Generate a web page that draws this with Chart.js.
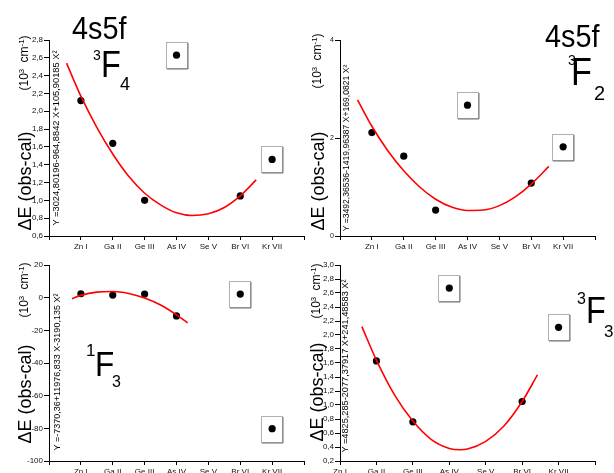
<!DOCTYPE html>
<html>
<head>
<meta charset="utf-8">
<script src="https://cdn.jsdelivr.net/npm/chart.js@4.4.1/dist/chart.umd.min.js"></script>
<style>
    html, body { margin: 0; padding: 0; background: #fff; }
    body { width: 614px; height: 473px; overflow: hidden; position: relative; font-family: 'Liberation Sans', Arial, sans-serif; }
    canvas { position: absolute; }
    .txt { position: absolute; color: #000; line-height: 1; white-space: nowrap; }
    .rot { position: absolute; color: #000; line-height: 1; white-space: nowrap; transform: translate(-50%, -50%) rotate(-90deg); }
    .rot sup { font-size: 65%; vertical-align: 0.55em; line-height: 0; }
</style>
</head>
<body>
<canvas id="c1"></canvas>
<canvas id="c2"></canvas>
<canvas id="c3"></canvas>
<canvas id="c4"></canvas>
<div id="labels"></div>
<script>
const categories = ['Zn I', 'Ga II', 'Ge III', 'As IV', 'Se V', 'Br VI', 'Kr VII'];

// 3F4 panel
const f4Values = [2.12, 1.64, 1.00, 2.63, null, 1.05, 1.46];
const f4Flagged = [3, 6];
const f4FitX = [0.55, 1, 1.5, 2, 2.5, 3, 3.5, 4, 4.5, 5, 5.5, 6, 6.5];
const f4FitY = [2.54, 2.17, 1.82, 1.52, 1.27, 1.08, 0.95, 0.86, 0.83, 0.85, 0.92, 1.05, 1.23];

// 3F2 panel
const f2Values = [2.11, 1.63, 0.53, 2.67, null, 1.08, 1.82];
const f2Flagged = [3, 6];
const f2FitX = [0.55, 1, 1.5, 2, 2.5, 3, 3.5, 4, 4.5, 5, 5.5, 6, 6.55];
const f2FitY = [2.78, 2.24, 1.74, 1.33, 1.00, 0.75, 0.59, 0.52, 0.53, 0.62, 0.80, 1.06, 1.42];

// 1F3 panel
const s3Values = [2.4, 1.6, 2.2, -11.2, null, 2.2, -80.2];
const s3Flagged = [5, 6];
const s3FitX = [0.72, 1, 1.5, 2, 2.5, 3, 3.5, 4, 4.35];
const s3FitY = [-0.7, 1.4, 3.4, 3.8, 2.6, -0.2, -4.5, -10.5, -15.4];

// 3F3 panel
const t3Values = [null, 1.63, 0.76, 2.67, null, 1.05, 2.11];
const t3Flagged = [3, 6];
const t3FitX = [1.6, 2, 2.5, 3, 3.5, 4, 4.3, 4.5, 5, 5.5, 6, 6.42];
const t3FitY = [2.12, 1.64, 1.14, 0.77, 0.51, 0.38, 0.36, 0.37, 0.48, 0.70, 1.05, 1.43];

const equations = [
    'Y =3024,80196-964,8842 X+105,90185 X²',
    'Y =3492,36536-1419,96387 X+169,0821 X²',
    'Y =-7370,36+11976,833 X-3190,135 X²',
    'Y =4825,285-2077,37917 X+241,48583 X²'
];

// boxes around the excluded points
const boxPlugin = {
    id: 'boxes',
    afterDatasetsDraw(chart) {
        const ctx = chart.ctx;
        chart.data.datasets.forEach((ds, i) => {
            if (!ds.boxed) return;
            chart.getDatasetMeta(i).data.forEach(pt => {
                const x = Math.round(pt.x), y = Math.round(pt.y);
                ctx.save();
                ctx.lineWidth = 1;
                ctx.strokeStyle = '#b0b0b0';
                ctx.strokeRect(x - 10.5, y - 12.5, 21, 26);
                ctx.strokeStyle = '#707070';
                ctx.beginPath();
                ctx.moveTo(x + 11, y - 12);
                ctx.lineTo(x + 11, y + 14);
                ctx.lineTo(x - 10, y + 14);
                ctx.stroke();
                ctx.restore();
            });
        });
    }
};

function makePanel(id, box, area, vals, flagged, fitX, fitY, xMin, yOpt) {
    const cv = document.getElementById(id);
    cv.style.left = box.left + 'px';
    cv.style.top = box.top + 'px';
    cv.style.width = box.w + 'px';
    cv.style.height = box.h + 'px';
    cv.width = box.w;
    cv.height = box.h;

    const normal = [], boxed = [];
    vals.forEach((v, i) => {
        if (v === null) return;
        (flagged.includes(i) ? boxed : normal).push({ x: i + 1, y: v });
    });
    const fit = fitX.map((x, i) => ({ x: x, y: fitY[i] }));

    new Chart(cv, {
        type: 'scatter',
        data: {
            datasets: [
                {
                    type: 'line', data: fit, borderColor: '#ff0000', borderWidth: 1.6,
                    pointRadius: 0, fill: false, cubicInterpolationMode: 'monotone'
                },
                { data: normal, backgroundColor: '#000', borderWidth: 0, pointRadius: 3.6 },
                { data: boxed, boxed: true, backgroundColor: '#000', borderWidth: 0, pointRadius: 3.6 }
            ]
        },
        options: {
            responsive: false,
            animation: false,
            events: [],
            layout: {
                padding: {
                    left: area.left - 22,
                    top: area.top,
                    right: box.w - area.right,
                    bottom: box.h - area.bottom - 26
                }
            },
            plugins: { legend: { display: false }, tooltip: { enabled: false } },
            scales: {
                x: {
                    type: 'linear', min: xMin, max: 8,
                    afterFit(s) { s.height = 26; },
                    border: { display: true, color: '#000', width: 1 },
                    grid: { display: true, drawOnChartArea: false, drawTicks: true, tickLength: 4, color: '#000' },
                    ticks: {
                        stepSize: 1, autoSkip: false, maxRotation: 0, padding: 2,
                        color: '#111', font: { family: 'Liberation Sans', size: 8 },
                        callback: v => categories[v - 1] || ''
                    }
                },
                y: {
                    min: yOpt.min, max: yOpt.max,
                    afterFit(s) { s.width = 22; },
                    border: { display: true, color: '#000', width: 1 },
                    grid: { display: true, drawOnChartArea: false, drawTicks: true, tickLength: 5, color: '#000' },
                    ticks: {
                        stepSize: yOpt.step, padding: 1,
                        color: '#111', font: { family: 'Liberation Sans', size: yOpt.font || 8 },
                        callback: yOpt.fmt
                    },
                    afterBuildTicks(s) {
                        s.ticks = yOpt.ticks.map(v => ({ value: v }));
                    }
                }
            }
        },
        plugins: [boxPlugin]
    });
}

const comma = v => v.toFixed(1).replace('.', ',');
const ticks028 = [0.6, 0.8, 1.0, 1.2, 1.4, 1.6, 1.8, 2.0, 2.2, 2.4, 2.6, 2.8];
const ticks030 = [0.2, 0.4, 0.6, 0.8, 1.0, 1.2, 1.4, 1.6, 1.8, 2.0, 2.2, 2.4, 2.6, 2.8, 3.0];

makePanel('c1', { left: 0, top: 0, w: 310, h: 262 }, { left: 49, top: 40, right: 304, bottom: 236 },
    f4Values, f4Flagged, f4FitX, f4FitY, 0,
    { min: 0.6, max: 2.8, step: 0.2, fmt: comma, ticks: ticks028 });
makePanel('c2', { left: 310, top: 0, w: 304, h: 262 }, { left: 30, top: 40, right: 285, bottom: 236 },
    f2Values, f2Flagged, f2FitX, f2FitY, 0,
    { min: 0, max: 4, step: 2, fmt: v => String(v), ticks: [0, 2, 4], font: 7 });
makePanel('c3', { left: 0, top: 240, w: 310, h: 250 }, { left: 49, top: 25, right: 304, bottom: 221 },
    s3Values, s3Flagged, s3FitX, s3FitY, 0,
    { min: -100, max: 20, step: 20, fmt: v => String(v), ticks: [-100, -80, -60, -40, -20, 0, 20] });
makePanel('c4', { left: 310, top: 240, w: 304, h: 250 }, { left: 30, top: 25, right: 285, bottom: 221 },
    t3Values, t3Flagged, t3FitX, t3FitY, 1,
    { min: 0.2, max: 3.0, step: 0.2, fmt: comma, ticks: ticks030 });

// text overlays
const lab = document.getElementById('labels');
function put(text, left, baseline, size, extra) {
    const d = document.createElement('div');
    d.className = 'txt';
    d.textContent = text;
    d.style.left = left + 'px';
    d.style.top = (baseline - 0.8465 * size) + 'px';
    d.style.fontSize = size + 'px';
    if (extra) Object.assign(d.style, extra);
    lab.appendChild(d);
}
function rot(html, cx, cy, size, extra) {
    const d = document.createElement('div');
    d.className = 'rot';
    d.innerHTML = html;
    d.style.left = cx + 'px';
    d.style.top = cy + 'px';
    d.style.fontSize = size + 'px';
    if (extra) Object.assign(d.style, extra);
    lab.appendChild(d);
}

const narrow = { transform: 'scaleX(0.9)', transformOrigin: 'left' };
// 3F4
put('4s5f', 72, 39, 32, narrow);
put('3', 93, 60, 14);
put('F', 101, 77, 36, narrow);
put('4', 120, 90, 18);
// 3F2
put('4s5f', 545, 47, 32, narrow);
put('3', 568, 65, 14);
put('F', 571, 85, 38, narrow);
put('2', 594, 100, 20);
// 1F3
put('1', 86, 356, 17);
put('F', 95, 376, 35, narrow);
put('3', 112, 388, 16);
// 3F3
put('3', 577, 305, 16);
put('F', 586, 323, 36, narrow);
put('3', 604, 337, 17);

const yTitle = 'ΔE (obs-cal)';
const yUnit = '(10<sup>3</sup> cm<sup>-1</sup>)';
[[25, 181, 63], [318, 181, 61], [25, 394, 290], [317, 392, 291]].forEach(p => {
    rot(yTitle, p[0], p[1], 18);
    rot(yUnit, p[0] - 1, p[2], 12, { wordSpacing: '3px' });
});

// fit equations along the y axes
[[57, 138, 9.3], [346, 148, 8.6], [57, 372, 9], [346, 366, 9.2]].forEach((p, i) => {
    rot(equations[i], p[0], p[1], p[2]);
});
</script>
</body>
</html>
